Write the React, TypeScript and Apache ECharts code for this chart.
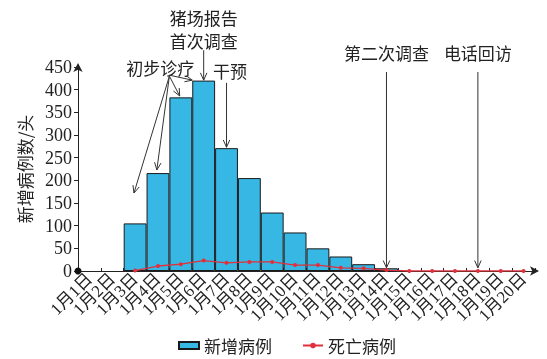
import React, { useEffect, useRef } from 'react';
import * as echarts from 'echarts';

const categories = [
  '1月1日', '1月2日', '1月3日', '1月4日', '1月5日', '1月6日', '1月7日', '1月8日', '1月9日', '1月10日',
  '1月11日', '1月12日', '1月13日', '1月14日', '1月15日', '1月16日', '1月17日', '1月18日', '1月19日', '1月20日',
];
const newCases = [null, null, 105, 216, 383, 420, 271, 205, 129, 85, 50, 32, 15, 6, null, null, null, null, null, null];
const deaths = [null, null, 1, 11, 15, 23, 18, 20, 20, 13, 13, 7, 6, 2, 0, 0, 0, 0, 0, 0];
const yMin = 0;
const yMax = 450;
const yInterval = 50;

// annotation texts: [text, category index (may be fractional), value]
const noteTexts: [string, number, number][] = [
  ['初步诊疗', 3.1, 450],
  ['猪场报告\n首次调查', 5, 533],
  ['干预', 6.15, 443],
  ['第二次调查', 13, 481],
  ['电话回访', 17, 481],
];
// arrows: [fromIdx, fromValue, toIdx, toValue]
const noteArrows: [number, number, number, number][] = [
  [3.5, 430, 1.95, 172],
  [3.5, 430, 2.95, 223],
  [3.5, 430, 3.95, 386],
  [3.5, 432, 4.5, 421],
  [5, 487, 5, 421],
  [6, 415, 6, 273],
  [13, 439, 13, 7],
  [17, 439, 17, 7],
];

const SERIF = "'Liberation Serif', 'Noto Sans CJK SC', serif";
const CJK = "'Noto Sans CJK SC', sans-serif";

export default function App() {
  const ref = useRef<HTMLDivElement>(null);
  useEffect(() => {
    if (!ref.current) return;
    const chart = echarts.init(ref.current, null, { renderer: 'svg' });
    chart.setOption({
      animation: false,
      grid: { left: 78, right: 12, top: 67, bottom: 88, containLabel: false },
      legend: {
        top: 332,
        left: 173,
        itemGap: 30,
        itemWidth: 20,
        itemHeight: 7,
        textStyle: { fontSize: 17, fontFamily: CJK, color: '#222' },
        data: [
          { name: '新增病例', icon: 'rect' },
          { name: '死亡病例' },
        ],
      },
      xAxis: {
        type: 'category',
        data: categories,
        boundaryGap: true,
        axisLine: {
          lineStyle: { color: '#222', width: 1 },
          symbol: ['none', 'arrow'],
          symbolSize: [7, 9],
          symbolOffset: [0, 4],
        },
        axisTick: { show: true, inside: true, length: 3, alignWithLabel: false, lineStyle: { color: '#222' } },
        axisLabel: {
          interval: 0,
          rotate: 45,
          margin: 5,
          fontSize: 17,
          fontFamily: SERIF,
          color: '#222',
        },
        splitLine: { show: false },
      },
      yAxis: {
        type: 'value',
        min: yMin,
        max: yMax,
        interval: yInterval,
        name: '新增病例数/头',
        nameLocation: 'middle',
        nameRotate: 90,
        nameGap: 45,
        nameTextStyle: { fontSize: 17, fontFamily: CJK, color: '#222' },
        axisLine: {
          show: true,
          lineStyle: { color: '#222', width: 1 },
          symbol: ['none', 'arrow'],
          symbolSize: [7, 9],
          symbolOffset: [0, 4],
        },
        axisTick: { show: true, length: 4, lineStyle: { color: '#222' } },
        axisLabel: { fontSize: 18, fontFamily: SERIF, color: '#222', margin: 6 },
        splitLine: { show: false },
      },
      series: [
        {
          name: '新增病例',
          type: 'bar',
          data: newCases,
          barCategoryGap: '0%',
          itemStyle: { color: '#37b7e4', borderColor: '#1a1a1a', borderWidth: 1 },
          z: 2,
        },
        {
          name: '死亡病例',
          type: 'line',
          data: deaths,
          symbol: 'circle',
          symbolSize: 4,
          lineStyle: { color: '#e0303c', width: 1.3 },
          itemStyle: { color: '#e0303c' },
          z: 3,
        },
      ],
    });

    const x0 = chart.convertToPixel({ xAxisIndex: 0 }, categories[0]) as number;
    const x1 = chart.convertToPixel({ xAxisIndex: 0 }, categories[1]) as number;
    const band = x1 - x0;
    const px = (idx: number) => x0 + idx * band;
    const py = (v: number) => chart.convertToPixel({ yAxisIndex: 0 }, v) as number;

    const elements: any[] = [];
    noteTexts.forEach(([t, idx, v]) => {
      elements.push({
        type: 'text',
        x: px(idx),
        y: py(v),
        z: 10,
        style: {
          text: t,
          fontSize: 17,
          lineHeight: 23,
          fontFamily: CJK,
          fill: '#222',
          align: 'center',
          verticalAlign: 'middle',
        },
      });
    });
    noteArrows.forEach(([fi, fv, ti, tv]) => {
      const ax = px(fi), ay = py(fv), bx = px(ti), by = py(tv);
      const ang = Math.atan2(by - ay, bx - ax);
      const L = 8, spread = 0.42;
      const h1 = [bx - L * Math.cos(ang - spread), by - L * Math.sin(ang - spread)];
      const h2 = [bx - L * Math.cos(ang + spread), by - L * Math.sin(ang + spread)];
      elements.push({
        type: 'line',
        z: 10,
        shape: { x1: ax, y1: ay, x2: bx, y2: by },
        style: { stroke: '#333', lineWidth: 1 },
      });
      elements.push({
        type: 'polyline',
        z: 10,
        shape: { points: [h1, [bx, by], h2] },
        style: { stroke: '#333', lineWidth: 1, fill: null },
      });
    });
    elements.push({
      type: 'circle',
      z: 10,
      shape: { cx: x0 - band / 2, cy: py(0), r: 3.5 },
      style: { fill: '#111' },
    });
    chart.setOption({ graphic: { elements } });

    return () => chart.dispose();
  }, []);
  return <div ref={ref} style={{ position: 'fixed', left: 0, top: 0, width: 547, height: 359 }} />;
}
